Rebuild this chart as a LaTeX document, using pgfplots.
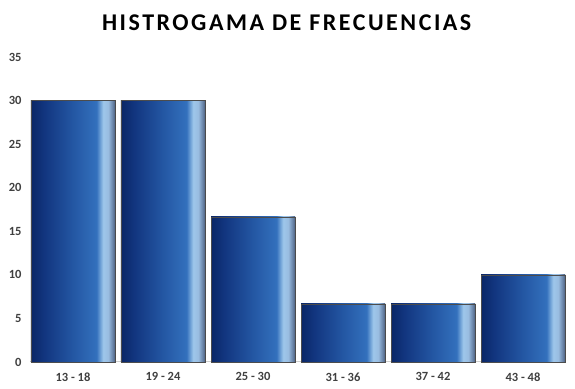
\documentclass[border=0pt]{standalone}
\usepackage{fontspec}
\setmainfont{Carlito}
\usepackage{pgfplots}
\pgfplotsset{compat=1.18}
\definecolor{lbl}{RGB}{64,64,64}
\pgfdeclarehorizontalshading{barshade}{100bp}{%
  rgb(0bp)=(0.04,0.15,0.40);
  rgb(25bp)=(0.04,0.15,0.40);
  rgb(33bp)=(0.07,0.21,0.50);
  rgb(50bp)=(0.14,0.34,0.64);
  rgb(64bp)=(0.20,0.44,0.74);
  rgb(68bp)=(0.62,0.78,0.92);
  rgb(71bp)=(0.60,0.74,0.88);
  rgb(74bp)=(0.38,0.48,0.62);
  rgb(75bp)=(0.30,0.38,0.50);
  rgb(100bp)=(0.30,0.38,0.50)}
\pgfplotsset{hbar/.style={ybar, bar width=84bp, bar shift=0pt, draw=gray!60!black, line width=0.4bp, shade, shading=barshade}}
\begin{document}
\begin{tikzpicture}
\useasboundingbox (-28bp,-27bp) rectangle (547bp,362bp);
\begin{axis}[
  at={(0,0)}, anchor=south west,
  scale only axis, width=540bp, height=305bp,
  xmin=-0.5, xmax=5.5, ymin=0, ymax=35,
  ytick={0,5,...,35},
  xtick={0,1,2,3,4,5},
  xticklabels={13 - 18,19 - 24,25 - 30,31 - 36,37 - 42,43 - 48},
  axis line style={draw=none},
  axis x line*=bottom, axis y line*=left,
  major tick length=0pt,
  tick label style={font=\fontsize{12.5bp}{14bp}\selectfont\bfseries, text=lbl},
  /pgf/number format/assume math mode=true,
  xticklabel style={yshift=-7bp},
  yticklabel style={xshift=-3bp},
  clip=false,
]
\draw[gray!40, line width=1bp] (axis cs:-0.48,0) -- (axis cs:5.48,0);
\addplot[hbar] coordinates {(0,30)};
\addplot[hbar] coordinates {(1,30)};
\addplot[hbar] coordinates {(2,16.67)};
\addplot[hbar] coordinates {(3,6.67)};
\addplot[hbar] coordinates {(4,6.67)};
\addplot[hbar] coordinates {(5,10)};
\end{axis}
\node[anchor=base, font=\fontsize{24bp}{28bp}\selectfont\bfseries\addfontfeature{LetterSpace=10.5}] at (258.7bp,331bp) {HISTROGAMA DE FRECUENCIAS};
\end{tikzpicture}
\end{document}
